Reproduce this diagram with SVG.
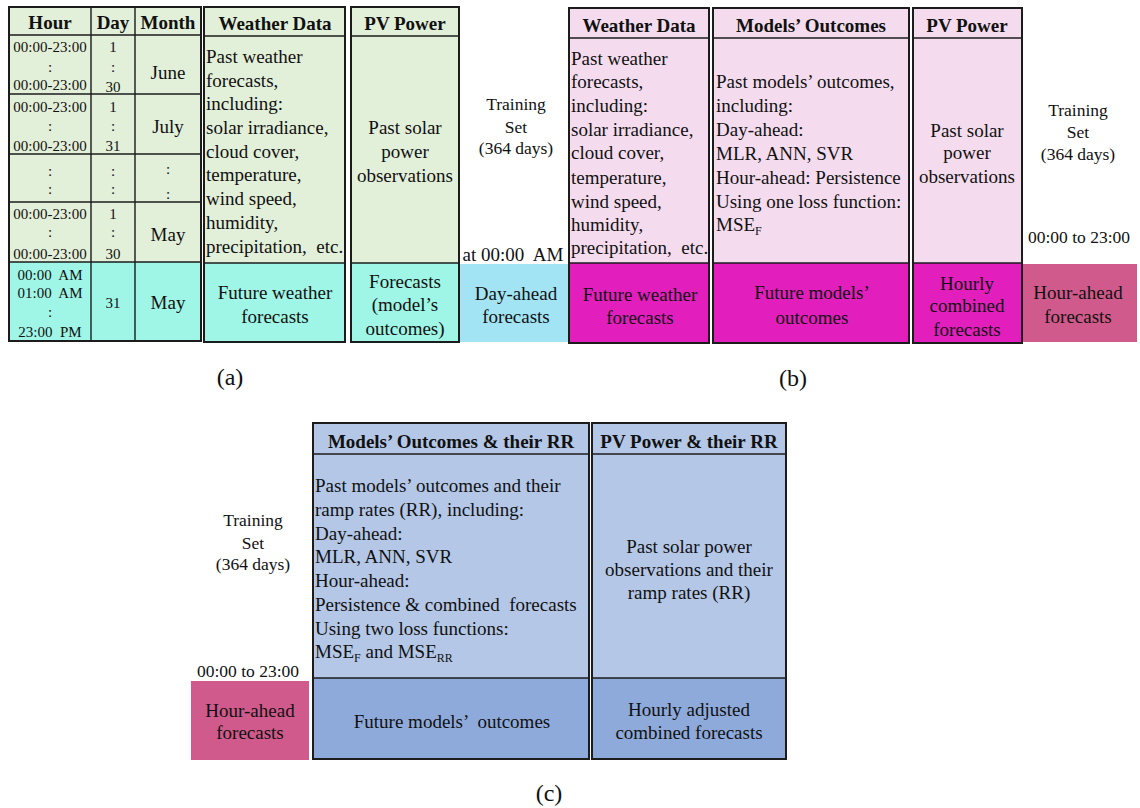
<svg xmlns="http://www.w3.org/2000/svg" width="1140" height="808" viewBox="0 0 1140 808">
  <style>
    text { font-family: "Liberation Serif", "Times New Roman", serif; fill: #111; }
    .t { font-size: 19px; }
    .m { text-anchor: middle; }
    .h { font-size: 19px; font-weight: bold; text-anchor: middle; }
    .s { font-size: 15px; text-anchor: middle; }
    .n { font-size: 17.5px; text-anchor: middle; }
    .cap { font-size: 24px; text-anchor: middle; }
    .sub { font-size: 12px; }
    .box { stroke: #1c1c1c; stroke-width: 2; }
    .ln { stroke: #1c1c1c; stroke-width: 1.4; fill: none; }
    .green { fill: #e2efd9; }
    .cyan { fill: #9ff6e6; }
    .sky { fill: #a2e4f4; }
    .pink { fill: #f4dcee; }
    .mag { fill: #e21fbd; }
    .rose { fill: #d05a8b; }
    .lblue { fill: #b4c7e7; }
    .mblue { fill: #8eaadb; }
  </style>

  <rect width="1140" height="808" fill="#fff"/>

  <!-- ===== Panel (a) ===== -->
  <g id="a-calendar">
    <rect class="green" x="9" y="7" width="192" height="255"/>
    <rect class="cyan" x="9" y="262" width="192" height="79"/>
    <rect class="box" x="9" y="7" width="192" height="334" fill="none"/>
    <path class="ln" d="M91 7V341M135 7V341M9 35H201M9 94H201M9 154H201M9 202H201M9 262H201"/>
    <text class="h" x="50" y="29">Hour</text>
    <text class="h" x="113" y="29">Day</text>
    <text class="h" x="168" y="29">Month</text>
    <!-- June -->
    <text class="s" x="50" y="52">00:00-23:00</text>
    <text class="s" x="50" y="72">:</text>
    <text class="s" x="50" y="90">00:00-23:00</text>
    <text class="s" x="113" y="52">1</text>
    <text class="s" x="113" y="72">:</text>
    <text class="s" x="113" y="92">30</text>
    <text class="t m" x="168" y="79">June</text>
    <!-- July -->
    <text class="s" x="50" y="112">00:00-23:00</text>
    <text class="s" x="50" y="131">:</text>
    <text class="s" x="50" y="151">00:00-23:00</text>
    <text class="s" x="113" y="112">1</text>
    <text class="s" x="113" y="131">:</text>
    <text class="s" x="113" y="151">31</text>
    <text class="t m" x="168" y="133">July</text>
    <!-- gap -->
    <text class="s" x="50" y="176">:</text>
    <text class="s" x="50" y="194">:</text>
    <text class="s" x="113" y="176">:</text>
    <text class="s" x="113" y="194">:</text>
    <text class="s" x="168" y="174">:</text>
    <text class="s" x="168" y="199">:</text>
    <!-- May -->
    <text class="s" x="50" y="219">00:00-23:00</text>
    <text class="s" x="50" y="237">:</text>
    <text class="s" x="50" y="259">00:00-23:00</text>
    <text class="s" x="113" y="219">1</text>
    <text class="s" x="113" y="237">:</text>
    <text class="s" x="113" y="259">30</text>
    <text class="t m" x="168" y="241">May</text>
    <!-- last day -->
    <text class="s" x="50" y="280" xml:space="preserve">00:00  AM</text>
    <text class="s" x="50" y="298" xml:space="preserve">01:00  AM</text>
    <text class="s" x="50" y="317">:</text>
    <text class="s" x="50" y="337" xml:space="preserve">23:00  PM</text>
    <text class="s" x="113" y="308">31</text>
    <text class="t m" x="168" y="309">May</text>
  </g>

  <g id="a-weather">
    <rect class="green" x="204" y="7" width="141" height="256"/>
    <rect class="cyan" x="204" y="263" width="141" height="79"/>
    <rect class="box" x="204" y="7" width="141" height="335" fill="none"/>
    <path class="ln" d="M204 36H345M204 263H345"/>
    <text class="h" x="275" y="30">Weather Data</text>
    <text class="t" x="206" y="63">Past weather</text>
    <text class="t" x="206" y="87">forecasts,</text>
    <text class="t" x="206" y="110">including:</text>
    <text class="t" x="206" y="134">solar irradiance,</text>
    <text class="t" x="206" y="158">cloud cover,</text>
    <text class="t" x="206" y="181">temperature,</text>
    <text class="t" x="206" y="205">wind speed,</text>
    <text class="t" x="206" y="229">humidity,</text>
    <text class="t" x="206" y="253" xml:space="preserve">precipitation,  etc.</text>
    <text class="t m" x="275" y="299">Future weather</text>
    <text class="t m" x="275" y="323">forecasts</text>
  </g>

  <g id="a-pv">
    <rect class="green" x="351" y="7" width="108" height="256"/>
    <rect class="cyan" x="351" y="263" width="108" height="79"/>
    <rect class="box" x="351" y="7" width="108" height="335" fill="none"/>
    <path class="ln" d="M351 36H459M351 263H459"/>
    <text class="h" x="405" y="30">PV Power</text>
    <text class="t m" x="405" y="134">Past solar</text>
    <text class="t m" x="405" y="158">power</text>
    <text class="t m" x="405" y="182">observations</text>
    <text class="t m" x="405" y="288">Forecasts</text>
    <text class="t m" x="405" y="311">(model’s</text>
    <text class="t m" x="405" y="335">outcomes)</text>
  </g>

  <g id="a-dayahead">
    <text class="n" x="516" y="110">Training</text>
    <text class="n" x="516" y="133">Set</text>
    <text class="n" x="516" y="154">(364 days)</text>
    <text class="t m" x="513" y="261" xml:space="preserve">at 00:00  AM</text>
    <rect class="sky" x="460" y="264" width="108" height="78"/>
    <text class="t m" x="516" y="300">Day-ahead</text>
    <text class="t m" x="516" y="323">forecasts</text>
  </g>

  <text class="cap" x="230" y="385">(a)</text>

  <!-- ===== Panel (b) ===== -->
  <g id="b-weather">
    <rect class="pink" x="569" y="8" width="140" height="255"/>
    <rect class="mag" x="569" y="263" width="140" height="80"/>
    <rect class="box" x="569" y="8" width="140" height="335" fill="none"/>
    <path class="ln" d="M569 38H709M569 263H709"/>
    <text class="h" x="639" y="32">Weather Data</text>
    <text class="t" x="571" y="65">Past weather</text>
    <text class="t" x="571" y="88">forecasts,</text>
    <text class="t" x="571" y="112">including:</text>
    <text class="t" x="571" y="136">solar irradiance,</text>
    <text class="t" x="571" y="159">cloud cover,</text>
    <text class="t" x="571" y="184">temperature,</text>
    <text class="t" x="571" y="208">wind speed,</text>
    <text class="t" x="571" y="231">humidity,</text>
    <text class="t" x="571" y="254" xml:space="preserve">precipitation,  etc.</text>
    <text class="t m" x="640" y="301">Future weather</text>
    <text class="t m" x="640" y="324">forecasts</text>
  </g>

  <g id="b-models">
    <rect class="pink" x="713" y="8" width="196" height="255"/>
    <rect class="mag" x="713" y="263" width="196" height="80"/>
    <rect class="box" x="713" y="8" width="196" height="335" fill="none"/>
    <path class="ln" d="M713 38H909M713 263H909"/>
    <text class="h" x="811" y="32">Models’ Outcomes</text>
    <text class="t" x="716" y="88">Past models’ outcomes,</text>
    <text class="t" x="716" y="112">including:</text>
    <text class="t" x="716" y="136">Day-ahead:</text>
    <text class="t" x="716" y="160">MLR, ANN, SVR</text>
    <text class="t" x="716" y="184">Hour-ahead: Persistence</text>
    <text class="t" x="716" y="208">Using one loss function:</text>
    <text class="t" x="716" y="231">MSE<tspan class="sub" dy="4">F</tspan></text>
    <text class="t m" x="812" y="299">Future models’</text>
    <text class="t m" x="812" y="324">outcomes</text>
  </g>

  <g id="b-pv">
    <rect class="pink" x="913" y="8" width="109" height="255"/>
    <rect class="mag" x="913" y="263" width="109" height="80"/>
    <rect class="box" x="913" y="8" width="109" height="335" fill="none"/>
    <path class="ln" d="M913 38H1022M913 263H1022"/>
    <text class="h" x="967" y="32">PV Power</text>
    <text class="t m" x="967" y="137">Past solar</text>
    <text class="t m" x="967" y="159">power</text>
    <text class="t m" x="967" y="183">observations</text>
    <text class="t m" x="967" y="290">Hourly</text>
    <text class="t m" x="967" y="312">combined</text>
    <text class="t m" x="967" y="336">forecasts</text>
  </g>

  <g id="b-hourahead">
    <text class="n" x="1078" y="116">Training</text>
    <text class="n" x="1078" y="138">Set</text>
    <text class="n" x="1078" y="160">(364 days)</text>
    <text class="n" x="1079" y="243">00:00 to 23:00</text>
    <rect class="rose" x="1023" y="264" width="114" height="78"/>
    <text class="t m" x="1078" y="299">Hour-ahead</text>
    <text class="t m" x="1078" y="323">forecasts</text>
  </g>

  <text class="cap" x="793" y="386">(b)</text>

  <!-- ===== Panel (c) ===== -->
  <g id="c-hourahead">
    <text class="n" x="253" y="526">Training</text>
    <text class="n" x="253" y="549">Set</text>
    <text class="n" x="253" y="570">(364 days)</text>
    <text class="n" x="248" y="677">00:00 to 23:00</text>
    <rect class="rose" x="191" y="681" width="118" height="79"/>
    <text class="t m" x="250" y="717">Hour-ahead</text>
    <text class="t m" x="250" y="739">forecasts</text>
  </g>

  <g id="c-models">
    <rect class="lblue" x="313" y="423" width="276" height="255"/>
    <rect class="mblue" x="313" y="678" width="276" height="81"/>
    <rect class="box" x="313" y="423" width="276" height="336" fill="none"/>
    <path class="ln" d="M313 454H589M313 678H589"/>
    <text class="h" x="451" y="448">Models’ Outcomes &amp; their RR</text>
    <text class="t" x="315" y="492">Past models’ outcomes and their</text>
    <text class="t" x="315" y="516">ramp rates (RR), including:</text>
    <text class="t" x="315" y="540">Day-ahead:</text>
    <text class="t" x="315" y="563">MLR, ANN, SVR</text>
    <text class="t" x="315" y="587">Hour-ahead:</text>
    <text class="t" x="315" y="611" xml:space="preserve">Persistence &amp; combined  forecasts</text>
    <text class="t" x="315" y="635">Using two loss functions:</text>
    <text class="t" x="315" y="658">MSE<tspan class="sub" dy="4">F</tspan><tspan dy="-4"> and MSE</tspan><tspan class="sub" dy="4">RR</tspan></text>
    <text class="t m" x="452" y="728" xml:space="preserve">Future models’  outcomes</text>
  </g>

  <g id="c-pv">
    <rect class="lblue" x="592" y="423" width="194" height="255"/>
    <rect class="mblue" x="592" y="678" width="194" height="81"/>
    <rect class="box" x="592" y="423" width="194" height="336" fill="none"/>
    <path class="ln" d="M592 454H786M592 678H786"/>
    <text class="h" x="689" y="448">PV Power &amp; their RR</text>
    <text class="t m" x="689" y="553">Past solar power</text>
    <text class="t m" x="689" y="576">observations and their</text>
    <text class="t m" x="689" y="599">ramp rates (RR)</text>
    <text class="t m" x="689" y="716">Hourly adjusted</text>
    <text class="t m" x="689" y="739">combined forecasts</text>
  </g>

  <text class="cap" x="549" y="801">(c)</text>
</svg>
